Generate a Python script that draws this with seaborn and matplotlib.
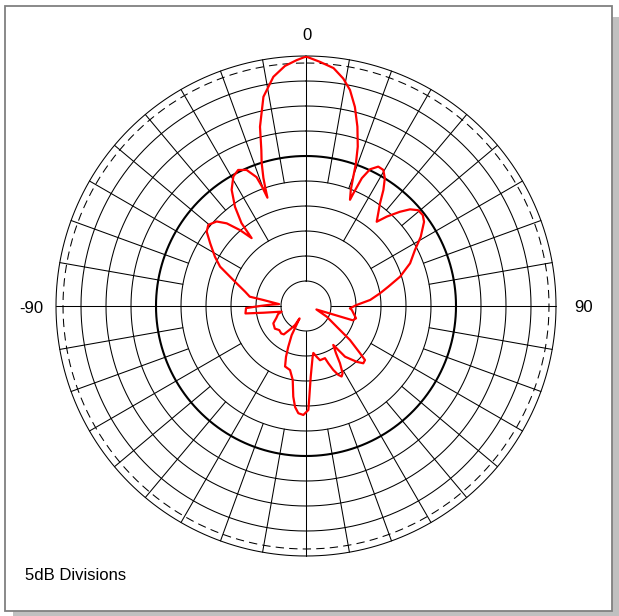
import numpy as np
import pandas as pd
import matplotlib.pyplot as plt
from matplotlib.patches import Rectangle
import seaborn as sns

# Radiation pattern: azimuth in degrees
# (clockwise from the top) and relative gain in dB
angles = [0, 3.3, 6.6, 9.3, 11.5, 13.8, 16.0, 18.0, 19.3, 20.1, 21.1, 22.5, 22.8,
          23.6, 25.1, 27.4, 29.6, 31.7, 33.7, 35.8, 40.0, 42.1, 44.9, 47.1, 49.5,
          52.1, 54.5, 58.9, 62.8, 67.7, 72.7, 76.8, 80.3, 84.6, 88.9, 93, 95,
          103.8, 107, 108.5, 117.3, 124, 127.7, 131.2, 132.5, 135, 137.7, 142.4,
          145, 147.6, 149.3, 151.4, 153.2, 154.9, 156.9, 158.7, 160, 165.5, 168.1,
          171.1, 172.5, 176.2, 177.9, 178.7, 181.4, 184.1, 186.2, 188, 190.2, 194,
          199.1, 201.5, 203.5, 206.2, 207.5, 210, 214, 218, 222, 228, 234, 242,
          248, 254, 257, 261, 263, 268, 270, 272, 274, 278, 279.4, 283.2, 288.1,
          291.1, 294.6, 298.4, 303.2, 306.8, 309.7, 313.4, 316.2, 319, 321.3,
          322.1, 324.4, 327.4, 330.7, 333.5, 336.4, 339.0, 339.8, 340.4, 341.0,
          341.6, 342.8, 344.0, 345.6, 348.5, 351.9, 355, 357.8, 360]
gain_db = [-0.1, -1.1, -2.1, -3.9, -5.9, -9.0, -12.7, -16.5, -19.8, -22.5, -25.1, -27.0, -25.6,
           -22.1, -19.8, -18.6, -18.7, -20.0, -22.1, -24.7, -28.0, -25.9, -23.4, -21.6, -20.5,
           -20.4, -21.0, -23.2, -25.5, -27.5, -30.3, -33.1, -35.0, -37.1, -39.9, -41.2, -40.8,
           -39.7, -40.2, -47.8, -45.3, -42.6, -38.9, -35.6, -34.0, -33.8, -34.9, -37.2,
           -40.5, -38.8, -36.7, -34.7, -34.2, -34.8, -36.1, -37.7, -38.9, -38.8, -39.6,
           -40.5, -39.8, -35.8, -31.8, -29.2, -28.2, -28.5, -29.7, -31.7, -35.0, -36.8,
           -37.2, -39.1, -41.1, -43.5, -47.2, -45.6, -44.4, -42.8, -42.6, -42.8, -42.3, -42.6,
           -43.6, -44.2, -45.0, -41.4, -37.8, -38.0, -40.8, -42.8, -44.6, -41.4, -38.6, -37.5, -35.4,
           -33.7, -31.1, -29.3, -27.1, -25.2, -24.6, -25.4, -27.1, -29.9, -32.6,
           -29.0, -25.6, -22.4, -20.3, -19.6, -20.3, -22.4, -24.6, -27.0, -25.0,
           -23.0, -20.0, -17.6, -13.0, -7.3, -3.7, -1.8, -0.8, -0.1]

angle_labels = ['0', '-90', '90']
scale_note = '5dB Divisions'

db_per_div = 5
n_divs = 10
bold_div = 6          # heavy ring at -20 dB
ref_level_db = -1.4   # dashed ring

W, H = 619, 616
sns.set_theme(style='white')
plt.rcParams['font.family'] = ['Liberation Sans', 'DejaVu Sans']

fig = plt.figure(figsize=(W / 100, H / 100), dpi=100)
fig.patch.set_facecolor('white')

# framed panel with a drop shadow
fig.add_artist(Rectangle((13 / W, 0), 1, (H - 17) / H, transform=fig.transFigure,
                         facecolor='#c0c0c0', edgecolor='none', zorder=-3))
fig.add_artist(Rectangle((5 / W, 5 / H), 607 / W, 605 / H, transform=fig.transFigure,
                         facecolor='white', edgecolor='#808080', lw=1.3, zorder=-2))

cx, cy, R = 306, 306, 250
ax = fig.add_axes([(cx - R) / W, (H - cy - R) / H, 2 * R / W, 2 * R / H], projection='polar')
ax.set_facecolor('none')
ax.set_theta_zero_location('N')
ax.set_theta_direction(-1)

rmax = db_per_div * n_divs
full = np.linspace(0, 2 * np.pi, 721)

# rings
for k in range(1, n_divs + 1):
    lw = 1.5 if k == bold_div else 0.75
    ax.plot(full, np.full_like(full, k * db_per_div), color='black', lw=lw, clip_on=False)
ax.plot(full, np.full_like(full, rmax + ref_level_db), color='black', lw=0.75,
        ls=(0, (8, 5)), clip_on=False)

# spokes: 90 deg from ring 1, 30 deg from ring 3, 10 deg from ring 5
for deg in range(0, 360, 10):
    if deg % 90 == 0:
        r0 = 1
    elif deg % 30 == 0:
        r0 = 3
    else:
        r0 = 5
    ax.plot([np.radians(deg)] * 2, [r0 * db_per_div, rmax], color='black', lw=0.75, clip_on=False)

df = pd.DataFrame({'theta': np.radians(angles), 'r': np.array(gain_db) + rmax})
sns.lineplot(data=df, x='theta', y='r', sort=False, estimator=None, color='red',
             lw=1.6, ax=ax, legend=False)

ax.set_ylim(0, rmax)
ax.grid(False)
ax.set_xticks([])
ax.set_yticks([])
ax.set_xlabel('')
ax.set_ylabel('')
ax.spines['polar'].set_visible(False)

fs = 12
fig.text(307 / W, 1 - 35.5 / H, angle_labels[0], ha='center', va='center', fontsize=fs, color='black')
fig.text(31.7 / W, 1 - 308.5 / H, angle_labels[1], ha='center', va='center', fontsize=fs, color='black')
fig.text(583.3 / W, 1 - 307.5 / H, angle_labels[2], ha='center', va='center', fontsize=fs, color='black')
fig.text(25 / W, 1 - 575 / H, scale_note, ha='left', va='center', fontsize=fs, color='black')

fig.savefig('out.png', dpi=100)
